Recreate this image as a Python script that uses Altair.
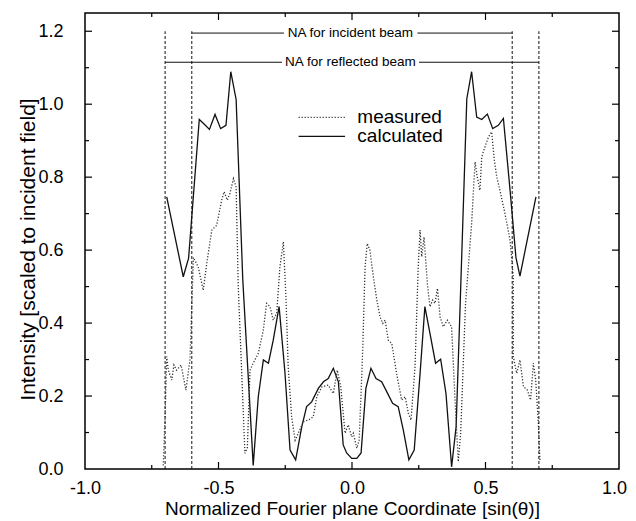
import altair as alt
import pandas as pd

# ---- data ----
calc_x = [-0.694, -0.632, -0.612, -0.572, -0.553, -0.534, -0.513, -0.492, -0.472, -0.454,
          -0.434, -0.409, -0.370, -0.351, -0.332, -0.313, -0.295, -0.273, -0.251, -0.232,
          -0.211, -0.188, -0.170, -0.151, -0.126, -0.107, -0.089, -0.070, -0.051, -0.033,
          -0.020, -0.001, 0.018, 0.034, 0.052, 0.071, 0.090, 0.111, 0.130, 0.152,
          0.173, 0.192, 0.213, 0.233, 0.255, 0.273, 0.292, 0.313, 0.332, 0.352,
          0.373, 0.390, 0.404, 0.430, 0.448, 0.467, 0.486, 0.507, 0.527, 0.548,
          0.567, 0.592, 0.614, 0.629, 0.689]
calc_y = [0.746, 0.527, 0.578, 0.958, 0.945, 0.931, 0.972, 0.933, 0.942, 1.089,
          1.013, 0.518, 0.010, 0.198, 0.299, 0.290, 0.353, 0.445, 0.263, 0.052,
          0.025, 0.116, 0.171, 0.184, 0.221, 0.239, 0.248, 0.276, 0.239, 0.066,
          0.044, 0.029, 0.029, 0.044, 0.221, 0.276, 0.248, 0.239, 0.212, 0.180,
          0.171, 0.107, 0.025, 0.052, 0.262, 0.445, 0.372, 0.290, 0.301, 0.207,
          0.006, 0.116, 0.427, 1.015, 1.089, 0.965, 0.958, 0.973, 0.933, 0.942,
          0.961, 0.764, 0.580, 0.529, 0.746]

meas_x = [-0.707, -0.700, -0.694, -0.688, -0.675, -0.667, -0.657, -0.640, -0.622, -0.607,
          -0.594, -0.576, -0.557, -0.544, -0.525, -0.507, -0.488, -0.479, -0.467, -0.457,
          -0.444, -0.434, -0.426, -0.401, -0.392, -0.382, -0.370, -0.351, -0.332, -0.320,
          -0.307, -0.295, -0.282, -0.270, -0.257, -0.247, -0.239, -0.226, -0.213, -0.201,
          -0.182, -0.164, -0.145, -0.132, -0.113, -0.089, -0.070, -0.055, -0.042, -0.026,
          -0.014, -0.001, 0.005, 0.018, 0.027, 0.040, 0.049, 0.057, 0.067, 0.080,
          0.093, 0.105, 0.115, 0.124, 0.136, 0.149, 0.167, 0.186, 0.199, 0.211,
          0.221, 0.236, 0.248, 0.255, 0.261, 0.270, 0.282, 0.292, 0.302, 0.311,
          0.320, 0.330, 0.342, 0.357, 0.373, 0.386, 0.398, 0.407, 0.425, 0.448,
          0.461, 0.469, 0.479, 0.486, 0.498, 0.511, 0.523, 0.533, 0.542, 0.554,
          0.573, 0.592, 0.604, 0.604, 0.617, 0.629, 0.642, 0.657, 0.669, 0.679,
          0.688, 0.698, 0.704]
meas_y = [0.010, 0.150, 0.308, 0.271, 0.244, 0.285, 0.271, 0.285, 0.216, 0.299,
          0.580, 0.554, 0.490, 0.564, 0.655, 0.668, 0.737, 0.760, 0.737, 0.756,
          0.796, 0.773, 0.500, 0.043, 0.058, 0.271, 0.290, 0.317, 0.381, 0.454,
          0.445, 0.408, 0.427, 0.554, 0.623, 0.463, 0.280, 0.143, 0.079, 0.098,
          0.130, 0.134, 0.143, 0.198, 0.225, 0.230, 0.207, 0.271, 0.225, 0.098,
          0.121, 0.088, 0.098, 0.057, 0.079, 0.326, 0.554, 0.618, 0.600, 0.527,
          0.463, 0.417, 0.399, 0.408, 0.353, 0.344, 0.262, 0.189, 0.198, 0.153,
          0.134, 0.280, 0.554, 0.655, 0.582, 0.636, 0.509, 0.445, 0.463, 0.454,
          0.495, 0.417, 0.390, 0.408, 0.390, 0.189, 0.020, 0.098, 0.450, 0.673,
          0.842, 0.801, 0.764, 0.856, 0.883, 0.910, 0.924, 0.847, 0.801, 0.764,
          0.700, 0.627, 0.527, 0.308, 0.262, 0.299, 0.226, 0.216, 0.189, 0.290,
          0.244, 0.125, 0.020]

# NA limits (vertical dashed lines) and their annotation
na_x = [-0.7, -0.6, 0.6, 0.7]
na_top = 1.2
na_labels = ["NA for incident beam", "NA for reflected beam"]
na_label_y = [1.195, 1.115]
na_seg_x1 = [-0.6, 0.245, -0.7, 0.251]
na_seg_x2 = [-0.255, 0.6, -0.262, 0.7]
na_seg_y = [1.195, 1.195, 1.115, 1.115]

legend_labels = ["measured", "calculated"]
legend_y = [0.964, 0.912]
legend_x1, legend_x2, legend_tx = -0.2, -0.026, 0.02

x_labels = [-1.0, -0.5, 0.0, 0.5, 1.0]
x_major = [-0.5, 0.0, 0.5]
x_minor = [-0.75, -0.25, 0.25, 0.75]
y_labels = [0.0, 0.2, 0.4, 0.6, 0.8, 1.0, 1.2]
y_major = [0.2, 0.4, 0.6, 0.8, 1.0, 1.2]
y_minor = [0.1, 0.3, 0.5, 0.7, 0.9, 1.1]

W, H = 534, 456
FONT = "Liberation Sans"

xs = alt.Scale(domain=[-1, 1], nice=False, zero=False)
ys = alt.Scale(domain=[0, 1.25], nice=False, zero=False)

xaxis = alt.Axis(values=x_labels, ticks=False, tickSize=0, domain=False, grid=False,
                 labelExpr="(datum.value < 0 ? '-' : '') + format(abs(datum.value), '.1f')",
                 labelFont=FONT, labelFontSize=18, labelColor="#000", labelPadding=10,
                 labelFlush=False, labelOverlap=False,
                 labelOffset=alt.condition("datum.value >= 1", alt.value(-5), alt.value(0)),
                 title="Normalized Fourier plane Coordinate [sin(θ)]",
                 titleFont=FONT, titleFontSize=19, titleFontWeight="normal", titleColor="#000",
                 titleY=45, titleBaseline="alphabetic")
yaxis = alt.Axis(values=y_labels, format=".1f", ticks=False, tickSize=0, domain=False, grid=False,
                 labelFont=FONT, labelFontSize=18, labelColor="#000", labelPadding=22,
                 labelFlush=False, labelOverlap=False,
                 title="Intensity [scaled to incident field]",
                 titleFont=FONT, titleFontSize=21, titleFontWeight="normal", titleColor="#000",
                 titleX=-51, titleY=236, titleAngle=270, titleAlign="center",
                 titleBaseline="alphabetic")


def X(f):
    return alt.X(f, type="quantitative", scale=xs, axis=xaxis)


def Y(f):
    return alt.Y(f, type="quantitative", scale=ys, axis=yaxis)


calc_df = pd.DataFrame({"x": calc_x, "y": calc_y, "i": range(len(calc_x))})
meas_df = pd.DataFrame({"x": meas_x, "y": meas_y, "i": range(len(meas_x))})

calc = alt.Chart(calc_df).mark_line(color="#111", strokeWidth=1.3).encode(
    x=X("x"), y=Y("y"), order="i:Q")
meas = alt.Chart(meas_df).mark_line(color="#333", strokeWidth=1.3, strokeDash=[1.2, 1.8]).encode(
    x=X("x"), y=Y("y"), order="i:Q")

vl_df = pd.DataFrame({"x": na_x, "y": [0.0] * len(na_x), "y2": [na_top] * len(na_x)})
vlines = alt.Chart(vl_df).mark_rule(color="#111", strokeWidth=1, strokeDash=[3, 2]).encode(
    x=X("x"), y=Y("y"), y2="y2:Q")

seg_df = pd.DataFrame({"x": na_seg_x1, "x2": na_seg_x2, "y": na_seg_y})
segs = alt.Chart(seg_df).mark_rule(color="#111", strokeWidth=1).encode(
    x=X("x"), x2="x2:Q", y=Y("y"))

nat_df = pd.DataFrame({"x": [-0.006, -0.006], "y": na_label_y, "t": na_labels})
natext = alt.Chart(nat_df).mark_text(font=FONT, fontSize=13.5, color="#000", align="center",
                                     baseline="middle").encode(x=X("x"), y=Y("y"), text="t:N")

leg_df = pd.DataFrame({"x": [legend_x1] * 2, "x2": [legend_x2] * 2, "y": legend_y,
                       "tx": [legend_tx] * 2, "t": legend_labels})
leg_meas = alt.Chart(leg_df.iloc[[0]]).mark_rule(color="#333", strokeWidth=1.3,
                                                 strokeDash=[1.2, 1.8]).encode(
    x=X("x"), x2="x2:Q", y=Y("y"))
leg_calc = alt.Chart(leg_df.iloc[[1]]).mark_rule(color="#111", strokeWidth=1.3).encode(
    x=X("x"), x2="x2:Q", y=Y("y"))
leg_text = alt.Chart(leg_df).mark_text(font=FONT, fontSize=19, color="#000", align="left",
                                       baseline="middle").encode(x=X("tx"), y=Y("y"), text="t:N")

# inward ticks on all four sides
tick_layers = []
for vals, L in [(x_major, 7), (x_minor, 4)]:
    d = pd.DataFrame({"x": vals})
    tick_layers.append(alt.Chart(d).mark_rule(color="#000", strokeWidth=1.2).encode(
        x=X("x"), y=alt.value(H), y2=alt.value(H - L)))
    tick_layers.append(alt.Chart(d).mark_rule(color="#000", strokeWidth=1.2).encode(
        x=X("x"), y=alt.value(0), y2=alt.value(L)))
for vals, L in [(y_major, 7), (y_minor, 4)]:
    d = pd.DataFrame({"y": vals})
    tick_layers.append(alt.Chart(d).mark_rule(color="#000", strokeWidth=1.2).encode(
        y=Y("y"), x=alt.value(0), x2=alt.value(L)))
    tick_layers.append(alt.Chart(d).mark_rule(color="#000", strokeWidth=1.2).encode(
        y=Y("y"), x=alt.value(W), x2=alt.value(W - L)))

chart = alt.layer(calc, meas, vlines, segs, natext, leg_meas, leg_calc, leg_text,
                  *tick_layers).properties(
    width=W, height=H,
    autosize=alt.AutoSizeParams(type="none"),
    padding={"left": 77, "top": 5, "right": 9, "bottom": 50},
    background="white",
).configure_view(stroke="#000", strokeWidth=1.5)

chart.save("out.html", embed_options={"renderer": "svg", "actions": False})
